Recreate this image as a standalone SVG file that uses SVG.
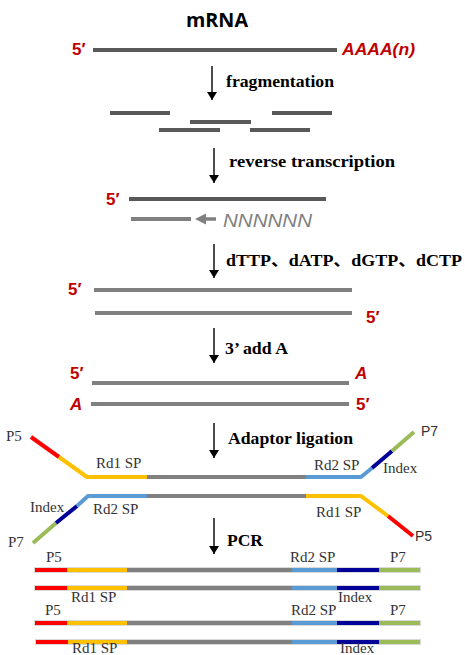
<svg xmlns="http://www.w3.org/2000/svg" width="465" height="655" viewBox="0 0 465 655">
<defs>
<marker id="ah" markerWidth="8" markerHeight="10" refX="8" refY="5" orient="auto" markerUnits="userSpaceOnUse">
<path d="M0,0 L8,5 L0,10 Z" fill="#000"/>
</marker>
<style>
.step{font-family:"Liberation Serif","Times New Roman",serif;font-weight:bold;font-size:16px;fill:#000}
.red{font-family:"Liberation Sans",Arial,sans-serif;font-weight:bold;font-size:17px;fill:#C00000}
.redi{font-family:"Liberation Sans",Arial,sans-serif;font-weight:bold;font-style:italic;font-size:17px;fill:#C00000}
.lab{font-family:"Liberation Serif","Times New Roman",serif;font-size:15px;fill:#333}
.labs{font-family:"Liberation Sans",Arial,sans-serif;font-size:14px;fill:#333}
.arr{stroke:#000;stroke-width:1.4;fill:none;marker-end:url(#ah)}
.dk{stroke:#595959;stroke-width:4;fill:none}
.lg{stroke:#808080;stroke-width:4;fill:none}
.s{stroke-width:4;fill:none;stroke-linejoin:round}
.halo{stroke:#d9d9d9;stroke-width:6;fill:none}
.cR{stroke:#FF0000}.cY{stroke:#FFC000}.cG{stroke:#808080}.cB{stroke:#5B9BD5}.cN{stroke:#000099}.cL{stroke:#9BBB59}
</style>
</defs>

<g id="connectors">
<line class="arr" x1="212" y1="66" x2="212" y2="100"/>
<line class="arr" x1="214" y1="148" x2="214" y2="183"/>
<line class="arr" x1="214" y1="244" x2="214" y2="278"/>
<line class="arr" x1="214" y1="328" x2="214" y2="363"/>
<line class="arr" x1="214" y1="423" x2="214" y2="458"/>
<line class="arr" x1="214" y1="518" x2="214" y2="554"/>
</g>

<g id="step-labels">
<text class="step" x="226" y="87" textLength="108" lengthAdjust="spacingAndGlyphs">fragmentation</text>
<text class="step" x="229" y="167" textLength="166" lengthAdjust="spacingAndGlyphs">reverse  transcription</text>
<text class="step" x="226" y="266" textLength="236" lengthAdjust="spacingAndGlyphs" style="font-family:'Liberation Serif','Noto Sans CJK SC',serif">dTTP、dATP、dGTP、dCTP</text>
<text class="step" x="225" y="354" textLength="63" lengthAdjust="spacingAndGlyphs">3’ add A</text>
<text class="step" x="228" y="444" textLength="125" lengthAdjust="spacingAndGlyphs">Adaptor ligation</text>
<text class="step" x="227" y="546" textLength="36" lengthAdjust="spacingAndGlyphs">PCR</text>
</g>

<g id="mrna">
<text x="186" y="27" textLength="62" lengthAdjust="spacingAndGlyphs" style="font-family:'Open Sans','Liberation Sans',sans-serif;font-weight:bold;font-size:19px;fill:#000">mRNA</text>
<text class="red" x="72" y="55">5′</text>
<line class="dk" x1="93" y1="50" x2="337" y2="50"/>
<text class="redi" x="342" y="55" textLength="73" lengthAdjust="spacingAndGlyphs">AAAA(n)</text>
</g>

<g id="fragments">
<line class="dk" x1="110" y1="113" x2="170" y2="113"/>
<line class="dk" x1="272" y1="113" x2="332" y2="113"/>
<line class="dk" x1="190" y1="122" x2="251" y2="122"/>
<line class="dk" x1="159" y1="130" x2="220" y2="130"/>
<line class="dk" x1="250" y1="130" x2="310" y2="130"/>
</g>

<g id="reverse-transcription">
<text class="red" x="106" y="205">5′</text>
<line class="dk" x1="129" y1="199" x2="326" y2="199"/>
<line class="lg" x1="131" y1="219" x2="191" y2="219"/>
<line x1="204" y1="219" x2="216" y2="219" stroke="#808080" stroke-width="3.5"/>
<path d="M195,219 L206,213.5 L206,224.5 Z" fill="#808080"/>
<text x="223" y="227" textLength="89" lengthAdjust="spacingAndGlyphs" style="font-family:'Liberation Sans',Arial,sans-serif;font-style:italic;font-size:18px;fill:#808080">NNNNNN</text>
</g>

<g id="second-strand">
<text class="red" x="68" y="295">5′</text>
<line class="lg" x1="94" y1="290" x2="352" y2="290"/>
<line class="lg" x1="95" y1="313" x2="352" y2="313"/>
<text class="red" x="366" y="323">5′</text>
</g>

<g id="add-a">
<text class="red" x="70" y="379">5′</text>
<line class="lg" x1="92" y1="383" x2="349" y2="383"/>
<text class="redi" x="355" y="379">A</text>
<text class="redi" x="70" y="410">A</text>
<line class="lg" x1="91" y1="404" x2="349" y2="404"/>
<text class="red" x="356" y="410">5′</text>
</g>

<g id="adaptor-ligation">
<polyline class="s cR" points="31,437 59,457"/>
<polyline class="s cY" points="59,457 87,477 147,477"/>
<polyline class="s cG" points="147,477 306,477"/>
<polyline class="s cB" points="306,477 361,477 372,468"/>
<polyline class="s cN" points="372,468 392,451"/>
<polyline class="s cL" points="392,451 414,432"/>

<polyline class="s cL" points="33,543 56,523"/>
<polyline class="s cN" points="56,523 77,506"/>
<polyline class="s cB" points="77,506 88,496 147,496"/>
<polyline class="s cG" points="147,496 306,496"/>
<polyline class="s cY" points="306,496 361,496 388,516"/>
<polyline class="s cR" points="388,516 413,536"/>

<text class="lab" x="6" y="441">P5</text>
<text class="lab" x="96" y="468">Rd1 SP</text>
<text class="lab" x="314" y="470">Rd2 SP</text>
<text class="lab" x="383" y="473">Index</text>
<text class="labs" x="421" y="436">P7</text>
<text class="lab" x="30" y="512">Index</text>
<text class="lab" x="93" y="514">Rd2 SP</text>
<text class="lab" x="316" y="517">Rd1 SP</text>
<text class="labs" x="415" y="541">P5</text>
<text class="lab" x="8" y="547">P7</text>
</g>

<g id="pcr-products">
<g id="row1">
<line class="halo" x1="34" y1="570" x2="421" y2="570"/>
<line class="s cR" x1="35" y1="570" x2="67" y2="570"/>
<line class="s cY" x1="67" y1="570" x2="127" y2="570"/>
<line class="s cG" x1="127" y1="570" x2="292" y2="570"/>
<line class="s cB" x1="292" y1="570" x2="337" y2="570"/>
<line class="s cN" x1="337" y1="570" x2="379" y2="570"/>
<line class="s cL" x1="379" y1="570" x2="420" y2="570"/>
<text class="lab" x="46" y="562">P5</text>
<text class="lab" x="290" y="562">Rd2 SP</text>
<text class="lab" x="390" y="562">P7</text>
</g>
<g id="row2">
<line class="halo" x1="34" y1="588" x2="421" y2="588"/>
<line class="s cR" x1="35" y1="588" x2="67" y2="588"/>
<line class="s cY" x1="67" y1="588" x2="127" y2="588"/>
<line class="s cG" x1="127" y1="588" x2="292" y2="588"/>
<line class="s cB" x1="292" y1="588" x2="337" y2="588"/>
<line class="s cN" x1="337" y1="588" x2="379" y2="588"/>
<line class="s cL" x1="379" y1="588" x2="420" y2="588"/>
<text class="lab" x="71" y="602">Rd1 SP</text>
<text class="lab" x="338" y="602">Index</text>
</g>
<g id="row3">
<line class="halo" x1="34" y1="623" x2="421" y2="623"/>
<line class="s cR" x1="35" y1="623" x2="67" y2="623"/>
<line class="s cY" x1="67" y1="623" x2="127" y2="623"/>
<line class="s cG" x1="127" y1="623" x2="292" y2="623"/>
<line class="s cB" x1="292" y1="623" x2="337" y2="623"/>
<line class="s cN" x1="337" y1="623" x2="379" y2="623"/>
<line class="s cL" x1="379" y1="623" x2="420" y2="623"/>
<text class="lab" x="45" y="615">P5</text>
<text class="lab" x="291" y="615">Rd2 SP</text>
<text class="lab" x="390" y="615">P7</text>
</g>
<g id="row4">
<line class="halo" x1="35" y1="642" x2="421" y2="642"/>
<line class="s cR" x1="36" y1="642" x2="68" y2="642"/>
<line class="s cY" x1="68" y1="642" x2="127" y2="642"/>
<line class="s cG" x1="127" y1="642" x2="292" y2="642"/>
<line class="s cB" x1="292" y1="642" x2="337" y2="642"/>
<line class="s cN" x1="337" y1="642" x2="379" y2="642"/>
<line class="s cL" x1="379" y1="642" x2="420" y2="642"/>
<text class="lab" x="72" y="653">Rd1 SP</text>
<text class="lab" x="340" y="653">Index</text>
</g>
</g>
</svg>
